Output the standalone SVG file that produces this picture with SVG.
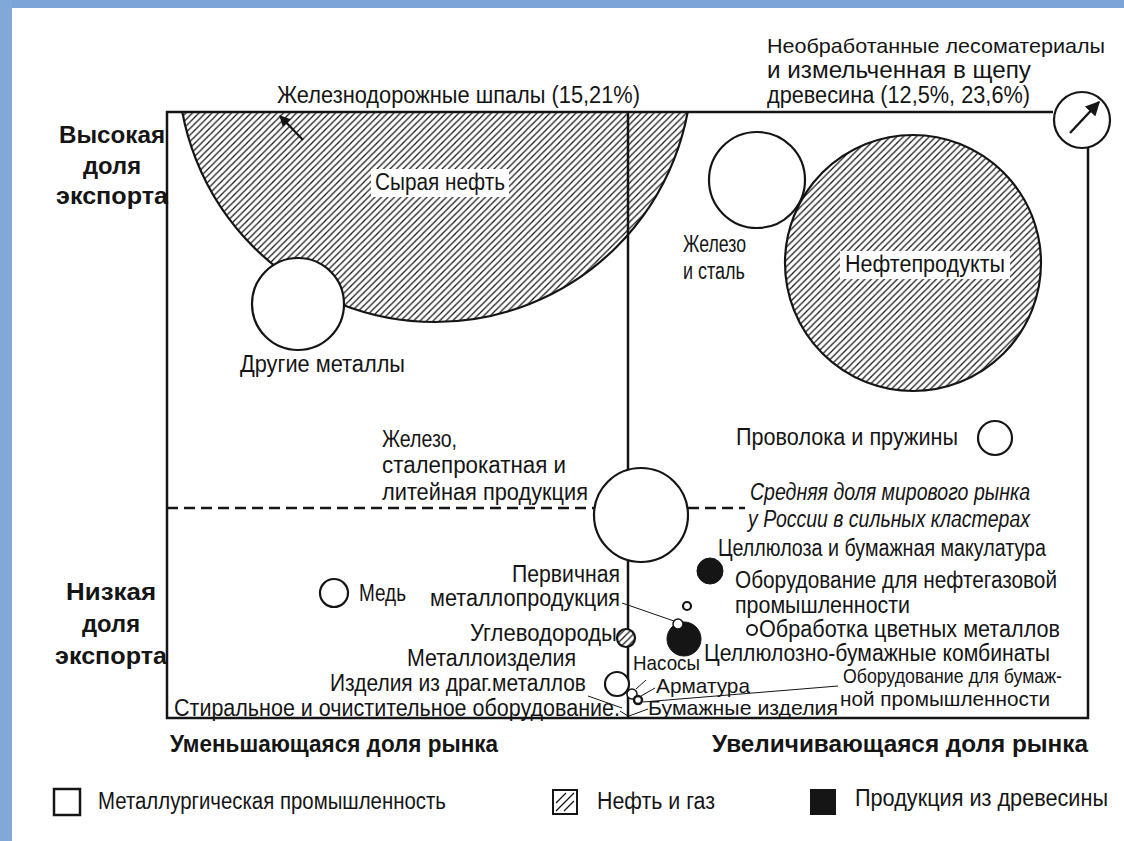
<svg xmlns="http://www.w3.org/2000/svg" width="1124" height="841" viewBox="0 0 1124 841">
<style>
.t{font-family:"Liberation Sans Narrow","Liberation Sans",Arial,sans-serif;font-size:23px;fill:#151515}
.s{font-size:21px}
.i{font-style:italic}
.b{font-weight:bold;font-size:23px}
.x{font-weight:bold;font-size:24px}
.c{fill:#fff;stroke:#151515;stroke-width:2.2}
.h{fill:url(#hatch);stroke:#151515;stroke-width:2.2}
.k{fill:#151515;stroke:#151515;stroke-width:1}
.fr{fill:none;stroke:#151515;stroke-width:2.5}
.ld{fill:none;stroke:#151515;stroke-width:1}
.ar{fill:none;stroke:#151515;stroke-width:2.2;marker-end:url(#ah)}
</style>
<defs>
<pattern id="hatch" patternUnits="userSpaceOnUse" width="6.5" height="6.5">
<rect width="6.5" height="6.5" fill="#fff"/>
<path d="M-1,1 L1,-1 M0,6.5 L6.5,0 M5.5,7.5 L7.5,5.5" stroke="#151515" stroke-width="1.2"/>
</pattern>
<marker id="ah" viewBox="0 0 10 10" refX="9" refY="5" markerWidth="5" markerHeight="5" orient="auto" markerUnits="strokeWidth">
<path d="M0,0 L10,5 L0,10 z" fill="#151515"/>
</marker>
<marker id="ah2" viewBox="0 0 10 10" refX="9" refY="5" markerWidth="6" markerHeight="6" orient="auto" markerUnits="strokeWidth">
<path d="M0,0 L10,5 L0,10 z" fill="#151515"/>
</marker>
<clipPath id="plot"><rect x="167" y="112" width="921" height="606"/></clipPath>
</defs>
<rect width="1124" height="841" fill="#fff"/>
<rect x="0" y="0" width="1124" height="8" fill="#7ca4d8"/>
<rect x="0" y="0" width="12" height="841" fill="#82a8d8"/>

<g id="crude-oil">
<circle class="h" cx="435" cy="65" r="257" clip-path="url(#plot)"/>
<rect x="371" y="169" width="138" height="28" fill="#fff"/>
<text class="t" x="375" y="190" textLength="130" lengthAdjust="spacingAndGlyphs">Сырая нефть</text>
</g>
<g id="other-metals">
<circle class="c" cx="298" cy="304" r="46"/>
<text class="t" x="240" y="372" textLength="165" lengthAdjust="spacingAndGlyphs">Другие металлы</text>
</g>

<g id="axes">
<line x1="628" y1="112" x2="628" y2="718" stroke="#151515" stroke-width="2.5"/>
<path class="fr" d="M1053,112 H167 V718 H1088 V148"/>
<line x1="167" y1="508" x2="596" y2="508" stroke="#151515" stroke-width="2.5" stroke-dasharray="11,6"/>
<line x1="688" y1="508" x2="745" y2="508" stroke="#151515" stroke-width="2.5" stroke-dasharray="11,6"/>
</g>

<g id="rail-sleepers">
<text class="t" x="277" y="103" textLength="363" lengthAdjust="spacingAndGlyphs">Железнодорожные шпалы (15,21%)</text>
</g>
<g id="raw-timber">
<circle class="c" cx="1082" cy="120" r="28"/>
<text class="t" x="767" y="53" font-size="21" style="font-size:21px" textLength="338" lengthAdjust="spacingAndGlyphs">Необработанные лесоматериалы</text>
<text class="t" x="767" y="78" textLength="264" lengthAdjust="spacingAndGlyphs">и измельченная в щепу</text>
<text class="t" x="767" y="103" textLength="263" lengthAdjust="spacingAndGlyphs">древесина (12,5%, 23,6%)</text>
</g>
<g id="y-high">
<text class="t b" x="112" y="143" text-anchor="middle" textLength="106" lengthAdjust="spacingAndGlyphs">Высокая</text>
<text class="t b" x="112" y="174" text-anchor="middle" textLength="58" lengthAdjust="spacingAndGlyphs">доля</text>
<text class="t b" x="112" y="204" text-anchor="middle" textLength="112" lengthAdjust="spacingAndGlyphs">экспорта</text>
</g>
<g id="iron-steel">
<circle class="c" cx="757" cy="180" r="48"/>
<text class="t" x="683" y="252" textLength="63" lengthAdjust="spacingAndGlyphs">Железо</text>
<text class="t" x="683" y="279" textLength="62" lengthAdjust="spacingAndGlyphs">и сталь</text>
</g>
<g id="oil-products">
<circle class="h" cx="913" cy="263" r="128"/>
<rect x="840" y="251" width="170" height="28" fill="#fff"/>
<text class="t" x="845" y="272" textLength="160" lengthAdjust="spacingAndGlyphs">Нефтепродукты</text>
</g>
<g id="wire-springs">
<circle class="c" cx="995" cy="438" r="17"/>
<text class="t" x="736" y="445" textLength="222" lengthAdjust="spacingAndGlyphs">Проволока и пружины</text>
</g>
<g id="iron-rolled">
<circle class="c" cx="641" cy="515" r="47"/>
<text class="t" x="382" y="447" textLength="75" lengthAdjust="spacingAndGlyphs">Железо,</text>
<text class="t" x="382" y="473" textLength="184" lengthAdjust="spacingAndGlyphs">сталепрокатная и</text>
<text class="t" x="382" y="500" textLength="206" lengthAdjust="spacingAndGlyphs">литейная продукция</text>
</g>
<g id="average-note">
<text class="t i" x="750" y="500" textLength="280" lengthAdjust="spacingAndGlyphs">Средняя доля мирового рынка</text>
<text class="t i" x="748" y="527" textLength="282" lengthAdjust="spacingAndGlyphs">у России в сильных кластерах</text>
</g>
<g id="pulp-waste">
<circle class="k" cx="710" cy="571" r="13"/>
<text class="t" x="718" y="556" textLength="328" lengthAdjust="spacingAndGlyphs">Целлюлоза и бумажная макулатура</text>
</g>
<g id="oilgas-equipment">
<circle cx="687" cy="606" r="4" fill="#fff" stroke="#151515" stroke-width="2.2"/>
<text class="t" x="735" y="588" textLength="322" lengthAdjust="spacingAndGlyphs">Оборудование для нефтегазовой</text>
<text class="t" x="735" y="613" textLength="175" lengthAdjust="spacingAndGlyphs">промышленности</text>
</g>
<g id="nonferrous">
<circle cx="752" cy="630" r="5" fill="#fff" stroke="#151515" stroke-width="2"/>
<text class="t" x="759" y="637" textLength="301" lengthAdjust="spacingAndGlyphs">Обработка цветных металлов</text>
</g>
<g id="pulp-mills">
<circle class="k" cx="684" cy="639" r="17"/>
<text class="t" x="704" y="661" textLength="346" lengthAdjust="spacingAndGlyphs">Целлюлозно-бумажные комбинаты</text>
</g>
<g id="primary-metal">
<circle cx="678" cy="624" r="5" fill="#fff" stroke="#151515" stroke-width="1.5"/>
<text class="t" x="620" y="582" text-anchor="end" textLength="108" lengthAdjust="spacingAndGlyphs">Первичная</text>
<text class="t" x="620" y="606" text-anchor="end" textLength="190" lengthAdjust="spacingAndGlyphs">металлопродукция</text>
</g>
<g id="hydrocarbons">
<circle class="h" cx="626" cy="638" r="9"/>
<text class="t" x="617" y="641" text-anchor="end" textLength="147" lengthAdjust="spacingAndGlyphs">Углеводороды</text>
</g>
<g id="copper">
<circle class="c" cx="334" cy="593" r="14"/>
<text class="t" x="359" y="601" textLength="47" lengthAdjust="spacingAndGlyphs">Медь</text>
</g>
<g id="metal-products">
<circle class="c" cx="617" cy="684" r="12"/>
<text class="t" x="407" y="666" textLength="169" lengthAdjust="spacingAndGlyphs">Металлоизделия</text>
</g>
<g id="precious">
<text class="t" x="330" y="691" textLength="256" lengthAdjust="spacingAndGlyphs">Изделия из драг.металлов</text>
</g>
<g id="washing">
<text class="t" x="174" y="716" textLength="446" lengthAdjust="spacingAndGlyphs">Стиральное и очистительное оборудование.</text>
</g>
<g id="pumps">
<circle cx="632" cy="694" r="5" fill="#fff" stroke="#151515" stroke-width="1.5"/>
<text class="t s" x="633" y="670" textLength="67" lengthAdjust="spacingAndGlyphs">Насосы</text>
</g>
<g id="fittings">
<circle cx="638" cy="700" r="4" fill="#fff" stroke="#151515" stroke-width="2.5"/>
<text class="t s" x="656" y="693" textLength="94" lengthAdjust="spacingAndGlyphs">Арматура</text>
</g>
<g id="paper-products">
<text class="t s" x="648" y="715" textLength="190" lengthAdjust="spacingAndGlyphs">Бумажные изделия</text>
</g>
<g id="paper-equipment">
<text class="t s" x="843" y="683" textLength="219" lengthAdjust="spacingAndGlyphs">Оборудование для бумаж-</text>
<text class="t s" x="840" y="706" textLength="210" lengthAdjust="spacingAndGlyphs">ной промышленности</text>
</g>
<g id="y-low">
<text class="t b" x="111" y="600" text-anchor="middle" textLength="90" lengthAdjust="spacingAndGlyphs">Низкая</text>
<text class="t b" x="111" y="632" text-anchor="middle" textLength="58" lengthAdjust="spacingAndGlyphs">доля</text>
<text class="t b" x="111" y="664" text-anchor="middle" textLength="112" lengthAdjust="spacingAndGlyphs">экспорта</text>
</g>
<g id="x-labels">
<text class="t x" x="170" y="752" textLength="328" lengthAdjust="spacingAndGlyphs">Уменьшающаяся доля рынка</text>
<text class="t x" x="712" y="752" textLength="376" lengthAdjust="spacingAndGlyphs">Увеличивающаяся доля рынка</text>
</g>
<g id="legend">
<rect x="54" y="789" width="26" height="26" fill="#fff" stroke="#151515" stroke-width="2.5"/>
<text class="t" x="98" y="809" textLength="348" lengthAdjust="spacingAndGlyphs">Металлургическая промышленность</text>
<rect x="553" y="790" width="24" height="24" fill="#fff" stroke="#151515" stroke-width="2"/>
<path d="M556,811 L574,793 M556,803 L566,793 M564,811 L574,801" stroke="#151515" stroke-width="1.3"/>
<text class="t" x="597" y="809" textLength="118" lengthAdjust="spacingAndGlyphs">Нефть и газ</text>
<rect x="810" y="789" width="26" height="26" fill="#151515"/>
<text class="t" x="855" y="806" textLength="253" lengthAdjust="spacingAndGlyphs">Продукция из древесины</text>
</g>
<g id="connectors">
<line class="ar" x1="303" y1="140" x2="280" y2="116"/>
<line x1="1070" y1="133" x2="1099" y2="102" stroke="#151515" stroke-width="2.4" marker-end="url(#ah2)"/>
<line class="ld" x1="622" y1="603" x2="674" y2="621"/>
<line class="ld" x1="588" y1="696" x2="622" y2="708"/>
<line class="ld" x1="838" y1="686" x2="643" y2="702"/>
<line class="ld" x1="648" y1="709" x2="629" y2="716"/>
<line class="ld" x1="636" y1="689" x2="646" y2="680"/>
<line class="ld" x1="641" y1="696" x2="655" y2="688"/>
<line class="ld" x1="620" y1="711" x2="628" y2="716"/>
</g>
</svg>
